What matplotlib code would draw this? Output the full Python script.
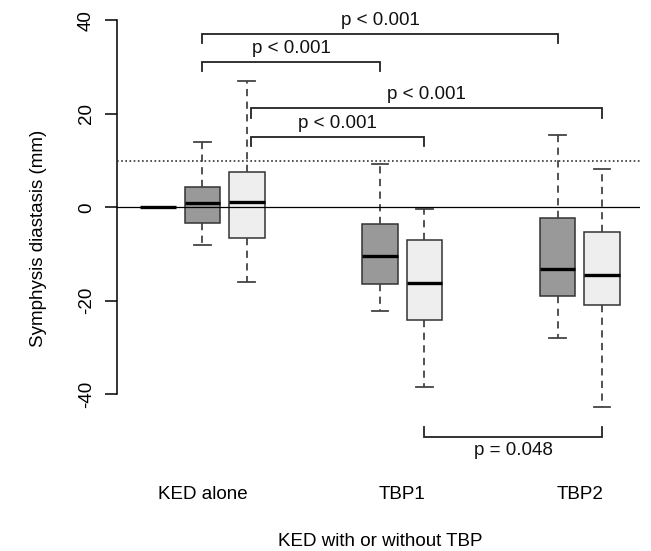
import matplotlib
matplotlib.use("Agg")
import matplotlib.pyplot as plt

# ---- data ----
box_labels = ["KED alone ref", "KED alone A", "KED alone B",
              "TBP1 A", "TBP1 B", "TBP2 A", "TBP2 B"]
q1 = [0.0, -3.4, -6.6, -16.5, -24.0, -19.0, -21.0]
med = [0.0, 1.0, 1.2, -10.4, -16.1, -13.1, -14.5]
q3 = [0.0, 4.3, 7.5, -3.6, -7.0, -2.35, -5.2]
whislo = [0.0, -8.1, -15.9, -22.1, -38.4, -27.9, -42.7]
whishi = [0.0, 14.0, 27.0, 9.2, -0.3, 15.5, 8.1]

group_labels = ["KED alone", "TBP1", "TBP2"]
y_ticks = [-40, -20, 0, 20, 40]
threshold = 10

br_from = [1, 1, 2.1, 2.1, 6]
br_to = [9, 5, 10, 6, 10]
br_y = [37.1, 31.1, 21.2, 15.1, -49.1]
br_text = ["p < 0.001", "p < 0.001", "p < 0.001", "p < 0.001", "p = 0.048"]

# ---- layout / style ----
positions = [0, 1, 2, 5, 6, 9, 10]
group_pos = [1, 5.5, 9.5]
fills = ["white", "#999999", "#eeeeee", "#999999", "#eeeeee", "#999999", "#eeeeee"]
FS = 13.5
FONT = "Liberation Sans"

W, H = 651, 551
fig = plt.figure(figsize=(W / 100, H / 100), dpi=100)
left_px, right_px, top_px, bot_px = 117, 640, 0, 470
ax = fig.add_axes([left_px / W, (H - bot_px) / H, (right_px - left_px) / W, (bot_px - top_px) / H])

px_per_unit_x = 44.4
x0_px = 158
ax.set_xlim((left_px - x0_px) / px_per_unit_x, (right_px - x0_px) / px_per_unit_x)
zero_px, ppu_y = 207.3, 4.675
ax.set_ylim((zero_px - bot_px) / ppu_y, (zero_px - top_px) / ppu_y)

stats = []
for i in range(len(box_labels)):
    stats.append(dict(label=box_labels[i], q1=q1[i], med=med[i], q3=q3[i],
                      whislo=whislo[i], whishi=whishi[i], fliers=[]))

edge = "#333333"
bp = ax.bxp(stats, positions=positions, widths=0.8, capwidths=0.38,
            patch_artist=True, showfliers=False,
            boxprops=dict(edgecolor=edge, linewidth=1.1),
            medianprops=dict(color="black", linewidth=2.4, solid_capstyle="butt"),
            whiskerprops=dict(color="#444444", linewidth=1.3, linestyle=(0, (4, 3))),
            capprops=dict(color="#444444", linewidth=1.3))
for patch, c in zip(bp["boxes"], fills):
    patch.set_facecolor(c)
# the all-zero reference box shows only its median
bp["boxes"][0].set_edgecolor("none")

ax.axhline(0, color="black", linewidth=0.9, zorder=4)
ax.axhline(threshold, color="#333333", linewidth=1.2, linestyle=(0, (1, 1.5)), zorder=4)

# brackets
for a, b, y, t in zip(br_from, br_to, br_y, br_text):
    leg = -2.0 if y > 0 else 2.0
    ax.plot([a, a, b, b], [y + leg, y, y, y + leg], color="#222222", linewidth=1.3,
            clip_on=False, solid_joinstyle="miter")
    ty = y + 2.9 if y > 0 else y - 3.0
    ax.text((a + b) / 2, ty, t, ha="center", va="center", fontsize=FS, family=FONT,
            color="#111111", clip_on=False)

# axes styling (R-like)
for s in ["top", "right", "bottom"]:
    ax.spines[s].set_visible(False)
ax.spines["left"].set_bounds(y_ticks[0], y_ticks[-1])
ax.spines["left"].set_linewidth(1.1)
ax.set_yticks(y_ticks)
ax.set_yticklabels([str(v) for v in y_ticks], rotation=90, va="center",
                   fontsize=FS, family=FONT)
ax.tick_params(axis="y", length=9, width=1.1, pad=7)
ax.set_xticks([])

for gx, gl in zip(group_pos, group_labels):
    ax.text(gx, (zero_px - 494) / ppu_y, gl, ha="center", va="center",
            fontsize=FS, family=FONT, clip_on=False)

ax.text((380 - x0_px) / px_per_unit_x, (zero_px - 541) / ppu_y, "KED with or without TBP",
        ha="center", va="center", fontsize=FS, family=FONT, clip_on=False)
fig.text(39 / W, 1 - 238 / H, "Symphysis diastasis (mm)", rotation=90,
         ha="center", va="center", fontsize=FS, family=FONT)

fig.savefig("out.png", dpi=100)
